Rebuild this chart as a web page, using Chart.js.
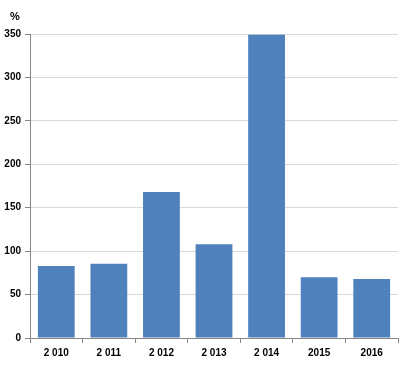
<!DOCTYPE html>
<html>
<head>
<meta charset="utf-8">
<script src="https://cdn.jsdelivr.net/npm/chart.js@4/dist/chart.umd.min.js"></script>
<style>
html,body{margin:0;padding:0;background:#fff;}
#wrap{width:402px;height:376px;position:relative;}
</style>
</head>
<body>
<div id="wrap"><canvas id="c" width="402" height="376"></canvas></div>
<script>
const categories = ["2 010", "2 011", "2 012", "2 013", "2 014", "2015", "2016"];
const values = [83, 85.5, 168, 108, 349, 70, 68];
const yTicks = [0, 50, 100, 150, 200, 250, 300, 350];
const unitLabel = "%";

const FONT = {family: "'Liberation Sans', Arial, sans-serif", size: 10, weight: "bold"};

const unitPlugin = {
  id: 'unitLabel',
  afterDraw(chart) {
    const ctx = chart.ctx;
    ctx.save();
    ctx.font = "bold 11px 'Liberation Sans', Arial, sans-serif";
    ctx.fillStyle = '#000';
    ctx.textAlign = 'left';
    ctx.textBaseline = 'middle';
    ctx.fillText(unitLabel, 10, 17);
    ctx.restore();
  }
};

new Chart(document.getElementById('c'), {
  type: 'bar',
  data: {
    labels: categories,
    datasets: [{
      data: values,
      backgroundColor: '#4f81bd',
      borderWidth: 0,
      categoryPercentage: 1.0,
      barPercentage: 0.7
    }]
  },
  options: {
    responsive: false,
    animation: false,
    devicePixelRatio: 1,
    layout: {padding: {top: 34, right: 4, left: 0, bottom: 0}},
    plugins: {legend: {display: false}, tooltip: {enabled: false}},
    scales: {
      x: {
        grid: {display: true, drawOnChartArea: false, offset: true, tickLength: 5, tickColor: '#868686'},
        border: {color: '#868686', width: 1},
        ticks: {color: '#000', font: FONT, padding: 4, maxRotation: 0, autoSkip: false},
        afterFit(scale) { scale.height = 38; }
      },
      y: {
        min: 0, max: 350,
        afterBuildTicks(scale) { scale.ticks = yTicks.map(v => ({value: v})); },
        grid: {color: '#d9d9d9', tickLength: 5, tickColor: '#868686'},
        border: {color: '#868686', width: 1},
        ticks: {color: '#000', font: FONT, padding: 4},
        afterFit(scale) { scale.width = 30; }
      }
    }
  },
  plugins: [unitPlugin]
});
</script>
</body>
</html>
